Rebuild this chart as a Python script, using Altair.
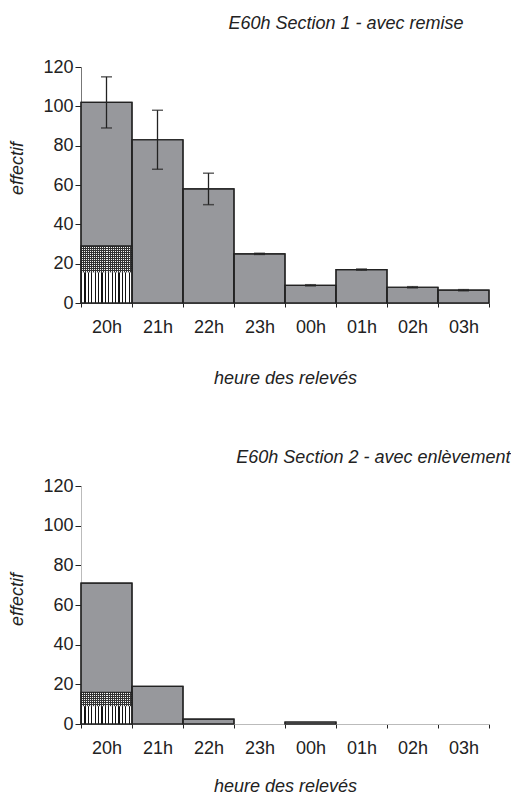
import altair as alt
import pandas as pd

hours = ["20h", "21h", "22h", "23h", "00h", "01h", "02h", "03h"]

# Section 1 - avec remise
s1_values = [102, 83, 58, 25, 9, 17, 8, 6.5]
s1_err_low = [89, 68, 50, 24.7, 8.7, 16.7, 7.7, 6.2]
s1_err_high = [115, 98, 66, 25.3, 9.3, 17.3, 8.3, 6.8]
s1_stripes = [15.5, 0, 0, 0, 0, 0, 0, 0]
s1_hatch = [29, 0, 0, 0, 0, 0, 0, 0]

# Section 2 - avec enlèvement
s2_values = [71, 19, 2.5, 0, 1, 0, 0, 0]
s2_stripes = [9, 0, 0, 0, 0, 0, 0, 0]
s2_hatch = [16, 0, 0, 0, 0, 0, 0, 0]

y_ticks = [0, 20, 40, 60, 80, 100, 120]

FONT = "Liberation Sans"
GRAY = "#97989c"
DARK = "#222222"
FS = 18


def stripe_gradient(n, dark_frac, dark, light, vertical=False):
    stops = []
    for k in range(n):
        a = k / n
        b = (k + dark_frac) / n
        c = (k + 1) / n
        stops += [
            {"offset": a, "color": dark},
            {"offset": b, "color": dark},
            {"offset": b, "color": light},
            {"offset": c, "color": light},
        ]
    g = {"gradient": "linear", "stops": stops}
    if vertical:
        g.update({"x1": 0, "x2": 0, "y1": 0, "y2": 1})
    else:
        g.update({"x1": 0, "x2": 1, "y1": 0, "y2": 0})
    return g


def panel(values, stripes, hatch, title, title_anchor, title_dx, title_offset, ytitle_y,
          xtitle_pad, domain_color, err_low=None, err_high=None, width=408, height=237):
    df = pd.DataFrame({"h": hours, "v": values, "s": stripes, "c": hatch})
    if err_low is not None:
        df["lo"] = err_low
        df["hi"] = err_high

    xscale = alt.Scale(domain=hours, paddingInner=0, paddingOuter=0)
    yscale = alt.Scale(domain=[0, 120])
    xaxis = alt.Axis(labelAngle=0, tickBand="extent", tickSize=4,
                     labelPadding=11, titlePadding=xtitle_pad, labelOverlap=False,
                     domainColor=domain_color, tickColor=DARK,
                     labelFontSize=FS, labelColor=DARK, labelFont=FONT,
                     titleFont=FONT, titleFontSize=FS, titleFontStyle="italic",
                     titleFontWeight="normal", titleColor=DARK)
    yaxis = alt.Axis(values=y_ticks, grid=False, tickSize=6, labelPadding=2,
                     labelOverlap=False,
                     domainColor=domain_color, tickColor=DARK,
                     labelFontSize=FS, labelColor=DARK, labelFont=FONT,
                     titleFont=FONT, titleFontSize=FS, titleFontStyle="italic",
                     titleFontWeight="normal", titleColor=DARK,
                     titlePadding=16, titleY=ytitle_y)

    def X():
        return alt.X("h:N", sort=hours, title="heure des relevés", scale=xscale, axis=xaxis)

    def Y(field):
        return alt.Y(field, scale=yscale, title="effectif", axis=yaxis)

    base = alt.Chart(df)
    nz = base.transform_filter("datum.v > 0")
    bars = nz.mark_bar(fill=GRAY, stroke=DARK, strokeWidth=1.2).encode(x=X(), y=Y("v:Q"))

    hs = base.transform_filter("datum.c > 0")
    hatch_px = max(int(round((hatch[0] - stripes[0]) / 120 * height / 2.0)), 1)
    hatch_fill = hs.mark_bar(fill=stripe_gradient(25, 0.5, "#333333", "#f4f4f4")).encode(
        x=X(), y=Y("c:Q"), y2=alt.Y2("s:Q"))
    hatch_rows = hs.mark_bar(fill=stripe_gradient(hatch_px, 0.5, "#333333",
                                                  "rgba(255,255,255,0)", vertical=True)).encode(
        x=X(), y=Y("c:Q"), y2=alt.Y2("s:Q"))

    ss = base.transform_filter("datum.s > 0")
    stripe_fill = ss.mark_bar(fill=stripe_gradient(15, 0.38, "#111111", "#ffffff")).encode(
        x=X(), y=Y("s:Q"))

    hatch_outline = hs.mark_bar(fillOpacity=0, stroke=DARK, strokeWidth=1.2).encode(
        x=X(), y=Y("c:Q"))
    bar_outline = nz.mark_bar(fillOpacity=0, stroke=DARK, strokeWidth=1.2).encode(
        x=X(), y=Y("v:Q"))

    layers = [bars, hatch_fill, hatch_rows, stripe_fill, hatch_outline, bar_outline]

    if err_low is not None:
        rule = base.mark_rule(color=DARK, strokeWidth=1.3).encode(
            x=X(), y=Y("lo:Q"), y2="hi:Q")
        cap_hi = base.mark_tick(color=DARK, size=11, thickness=1.5, orient="horizontal").encode(
            x=X(), y=Y("hi:Q"))
        cap_lo = base.mark_tick(color=DARK, size=11, thickness=1.5, orient="horizontal").encode(
            x=X(), y=Y("lo:Q"))
        layers += [rule, cap_hi, cap_lo]

    return alt.layer(*layers).properties(
        width=width, height=height,
        title=alt.TitleParams(title, font=FONT, fontSize=FS, fontStyle="italic",
                              fontWeight="normal", color=DARK, anchor=title_anchor,
                              dx=title_dx, offset=title_offset),
    )


top = panel(s1_values, s1_stripes, s1_hatch, "E60h Section 1 - avec remise", "middle", 61, 25,
            101, 33, "#777777", s1_err_low, s1_err_high, height=236)
bottom = panel(s2_values, s2_stripes, s2_hatch, "E60h Section  2 - avec enlèvement", "end", 21,
               10, 113, 20, "#bbbbbb", height=238)

chart = alt.vconcat(top, bottom, spacing=62, background="white",
                    padding={"top": 7, "left": 0, "right": 0, "bottom": 0}).configure_view(
    strokeWidth=0)

chart.save("out.html", embed_options={"renderer": "svg", "actions": False})
